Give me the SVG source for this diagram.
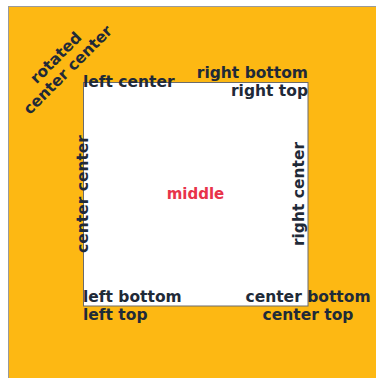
<svg xmlns="http://www.w3.org/2000/svg" width="376" height="378" viewBox="0 0 376 378">
<style>
.lbl{font-family:"DejaVu Sans",sans-serif;font-weight:bold;font-size:15.5px;fill:#1f2a38}
.mid{font-family:"DejaVu Sans",sans-serif;font-weight:bold;font-size:15px;fill:#e8334a}
</style>
<rect x="0" y="0" width="376" height="378" fill="#ffffff"/>
<g id="frame">
<rect x="8.5" y="6.5" width="380" height="380" fill="#fdb813" stroke="#9a9a9a" stroke-width="1"/>
</g>
<g id="box">
<rect x="83.5" y="82.5" width="224.5" height="223.5" fill="#ffffff" stroke="#6b6b6b" stroke-width="1"/>
<text class="mid" x="195.5" y="194" text-anchor="middle" dominant-baseline="central">middle</text>
</g>
<g id="labels">
<text class="lbl" x="83" y="82" dominant-baseline="central">left center</text>
<text class="lbl" x="308" y="82" text-anchor="end" dominant-baseline="text-after-edge">right bottom</text>
<text class="lbl" x="308" y="82" text-anchor="end" dominant-baseline="text-before-edge">right top</text>
<text class="lbl" transform="translate(83,194) rotate(-90)" text-anchor="middle" dominant-baseline="central">center center</text>
<text class="lbl" transform="translate(308,194) rotate(-90)" text-anchor="middle" dominant-baseline="text-after-edge">right center</text>
<text class="lbl" x="83" y="306" dominant-baseline="text-after-edge">left bottom</text>
<text class="lbl" x="83" y="306" dominant-baseline="text-before-edge">left top</text>
<text class="lbl" x="308" y="306" text-anchor="middle" dominant-baseline="text-after-edge">center bottom</text>
<text class="lbl" x="308" y="306" text-anchor="middle" dominant-baseline="text-before-edge">center top</text>
<g transform="translate(62,64) rotate(-45)">
<text class="lbl" x="0" y="-8.5" text-anchor="middle" dominant-baseline="central">rotated</text>
<text class="lbl" x="0" y="8.5" text-anchor="middle" dominant-baseline="central">center center</text>
</g>
</g>
</svg>
